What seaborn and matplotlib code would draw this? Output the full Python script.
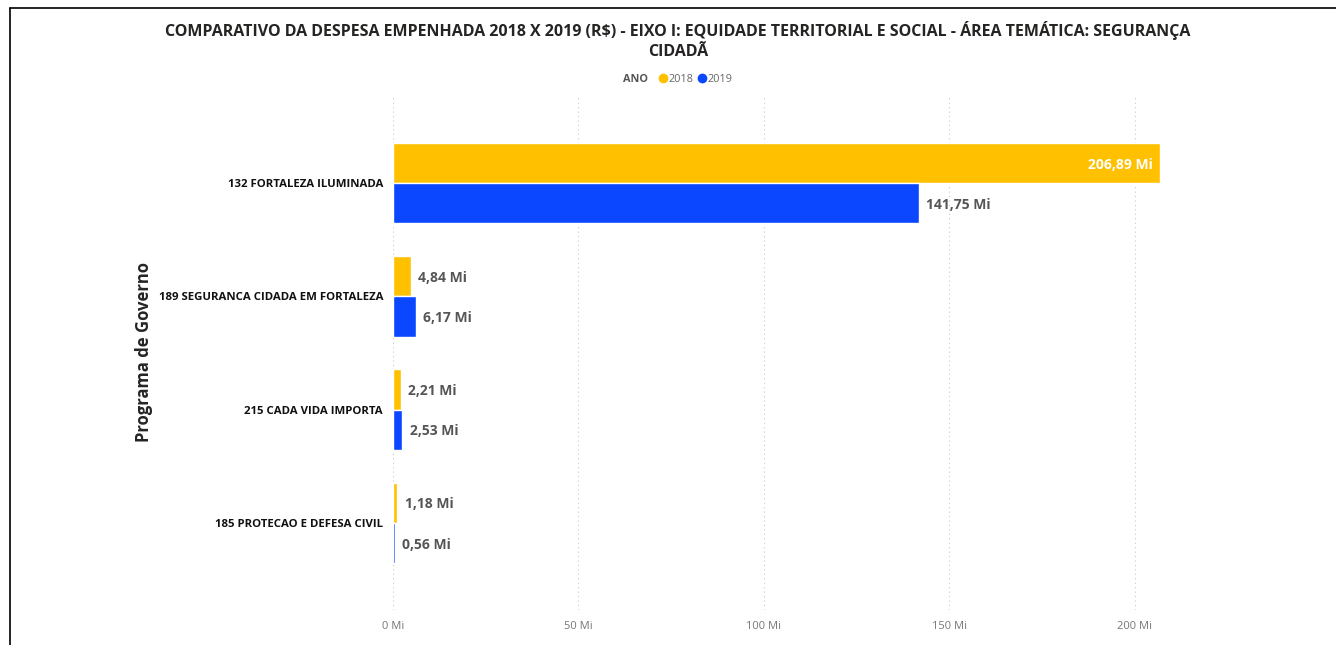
import seaborn as sns
import matplotlib.pyplot as plt
import pandas as pd
from matplotlib.lines import Line2D

# values in millions (R$)
programas = ["132 FORTALEZA ILUMINADA", "189 SEGURANCA CIDADA EM FORTALEZA",
             "215 CADA VIDA IMPORTA", "185 PROTECAO E DEFESA CIVIL"]
valores_2018 = [206.89, 4.84, 2.21, 1.18]
valores_2019 = [141.75, 6.17, 2.53, 0.56]
anos = ["2018", "2019"]
cores = ["#FFC000", "#0B47FF"]

df = pd.DataFrame({
    "Programa": programas * 2,
    "Valor": valores_2018 + valores_2019,
    "ANO": [anos[0]] * 4 + [anos[1]] * 4,
})

sns.set_style("white")
plt.rcParams["font.family"] = ["Open Sans", "DejaVu Sans"]

fig = plt.figure(figsize=(13.36, 6.45), dpi=100)
ax = fig.add_axes([0.294, 0.054, 0.583, 0.799])

sns.barplot(data=df, y="Programa", x="Valor", hue="ANO", palette=cores,
            order=programas, hue_order=anos, width=0.71, orient="h",
            legend=False, ax=ax, saturation=1)

ax.set_xlim(0, 210)
ax.set_ylim(3.77, -0.78)
ax.set_xticks([0, 50, 100, 150, 200])
ax.set_xticklabels(["0 Mi", "50 Mi", "100 Mi", "150 Mi", "200 Mi"], color="#777777", fontsize=8)
ax.tick_params(axis="x", length=0, pad=8)
ax.tick_params(axis="y", length=0, pad=7)
for lbl in ax.get_yticklabels():
    lbl.set_fontsize(8.2)
    lbl.set_fontweight("bold")
    lbl.set_color("#111111")
ax.xaxis.grid(True, linestyle=(0, (1, 3)), color="#c8c8c8", linewidth=0.8)
ax.set_axisbelow(True)
for s in ax.spines.values():
    s.set_visible(False)
ax.set_xlabel("")
ax.set_ylabel("Programa de Governo", fontsize=12, fontweight="bold", color="#252423", labelpad=4)

# data labels
for container in ax.containers:
    for bar in container:
        w = bar.get_width()
        yc = bar.get_y() + bar.get_height() / 2
        txt = f"{w:.2f}".replace(".", ",") + " Mi"
        if w > 180:
            ax.text(w - 2, yc, txt, ha="right", va="center_baseline", color="white",
                    fontsize=10, fontweight="bold")
        else:
            ax.text(w + 2, yc, txt, ha="left", va="center_baseline", color="#555555",
                    fontsize=10, fontweight="bold")

fig.text(0.5075, 0.953, "COMPARATIVO DA DESPESA EMPENHADA 2018 X 2019 (R$) - EIXO I: EQUIDADE TERRITORIAL E SOCIAL - ÁREA TEMÁTICA: SEGURANÇA",
         ha="center", va="center", fontsize=11.5, fontweight="bold", color="#252423")
fig.text(0.5075, 0.92, "CIDADÃ", ha="center", va="center", fontsize=11.5,
         fontweight="bold", color="#252423")

# legend
fig.text(0.466, 0.877, "ANO", ha="left", va="center", fontsize=7.8, fontweight="bold", color="#555555")
handles = [Line2D([], [], marker="o", linestyle="", markersize=6, color=c) for c in cores]
fig.legend(handles, anos, loc="center left", bbox_to_anchor=(0.485, 0.877), ncol=2,
           frameon=False, handletextpad=0.0, columnspacing=0.3, fontsize=7.8,
           labelcolor="#666666", handlelength=1.0)

# border
fig.add_artist(Line2D([10 / 1336, 1], [1 - 8 / 645] * 2, color="black", linewidth=1.2))
fig.add_artist(Line2D([10 / 1336] * 2, [0, 1 - 8 / 645], color="black", linewidth=1.2))

fig.savefig("out.png", dpi=100, facecolor="white")
